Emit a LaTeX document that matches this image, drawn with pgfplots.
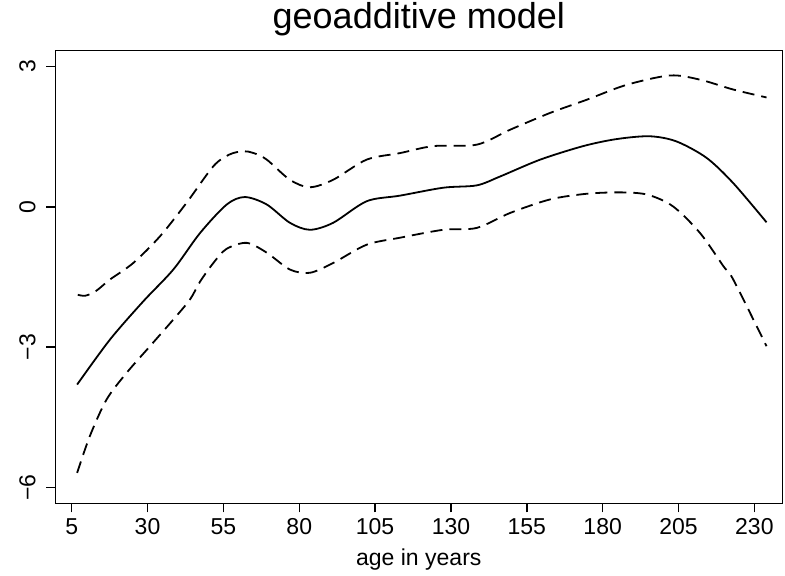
\documentclass[border=0pt]{standalone}
\usepackage{fontspec}
\setmainfont{Liberation Sans}
\usepackage{pgfplots}
\pgfplotsset{compat=1.18}
\begin{document}
\begin{tikzpicture}
\begin{axis}[
 name=ax,
 scale only axis,
 width=727pt, height=452.6pt,
 xmin=-0.4, xmax=239.2, ymin=-6.34, ymax=3.34,
 xtick={5,30,55,80,105,130,155,180,205,230},
 ytick={-6,-3,0,3},
 yticklabels={−6,−3,0,3},
 tick align=outside, xtick pos=left, ytick pos=left,
 major tick length=9pt,
 axis line style={line width=1.4pt},
 every tick/.style={black, line width=1.4pt},
 /pgf/number format/assume math mode=true,
 xticklabel style={font=\fontsize{23}{27}\selectfont, anchor=base, yshift=-22.1pt},
 yticklabel style={font=\fontsize{23}{27}\selectfont, rotate=90, anchor=base, yshift=11pt},
 xlabel={age in years},
 xlabel style={at={(axis description cs:0.5,0)}, anchor=base, yshift=-62pt, font=\fontsize{23}{27}\selectfont},
 title={geoadditive model},
 title style={at={(axis description cs:0.5,1)}, anchor=base, yshift=15.7pt, font=\fontsize{36}{42}\selectfont},
]
\addplot[black, line width=1.8pt, smooth, dash pattern=on 12pt off 7pt] coordinates {
(7,-1.88) (9.5,-1.90) (13,-1.80) (17.7,-1.55) (25.3,-1.20) (34.1,-0.63) (42.9,0.09) (51.7,0.87) (57,1.12) (61.6,1.19) (65,1.15) (69.3,1.01) (76.9,0.58) (83.5,0.42) (91.2,0.58) (102.2,1.01) (113.2,1.15) (124.2,1.30) (138.5,1.33) (149.5,1.65) (162.7,2.01) (174.7,2.29) (187.9,2.61) (202.2,2.81) (212.1,2.72) (223.0,2.51) (234.0,2.34)
};
\addplot[black, line width=1.8pt, smooth] coordinates {
(6.8,-3.80) (17.6,-2.84) (28.6,-2.02) (38.5,-1.34) (47.3,-0.56) (56.1,0.05) (62.1,0.21) (69.3,0.05) (76.9,-0.34) (83.5,-0.49) (91.2,-0.34) (102.2,0.12) (113.2,0.24) (127.5,0.41) (138.5,0.46) (146.2,0.65) (159.4,1.01) (173.6,1.30) (184.6,1.45) (195.5,1.51) (204.3,1.40) (214.2,1.05) (223.0,0.51) (234.0,-0.33)
};
\addplot[black, line width=1.8pt, smooth, dash pattern=on 12pt off 7pt] coordinates {
(6.8,-5.69) (11.0,-4.90) (16.5,-4.12) (23.1,-3.55) (30.8,-2.98) (38.5,-2.41) (44.0,-1.98) (47.3,-1.60) (51.7,-1.20) (56,-0.90) (62.7,-0.77) (69.3,-0.98) (76.9,-1.34) (83.5,-1.41) (91.2,-1.20) (102.2,-0.81) (113.2,-0.66) (127.5,-0.49) (138.5,-0.45) (149.5,-0.13) (162.7,0.16) (174.7,0.28) (186.0,0.31) (194.8,0.26) (203.2,0.01) (212.1,-0.56) (219.8,-1.27) (223.0,-1.55) (234.0,-2.98)
};
\end{axis}
\pgfresetboundingbox
\path (ax.south west) ++(-55.3pt,-72.7pt) rectangle ++(785pt,576pt);
\end{tikzpicture}
\end{document}
